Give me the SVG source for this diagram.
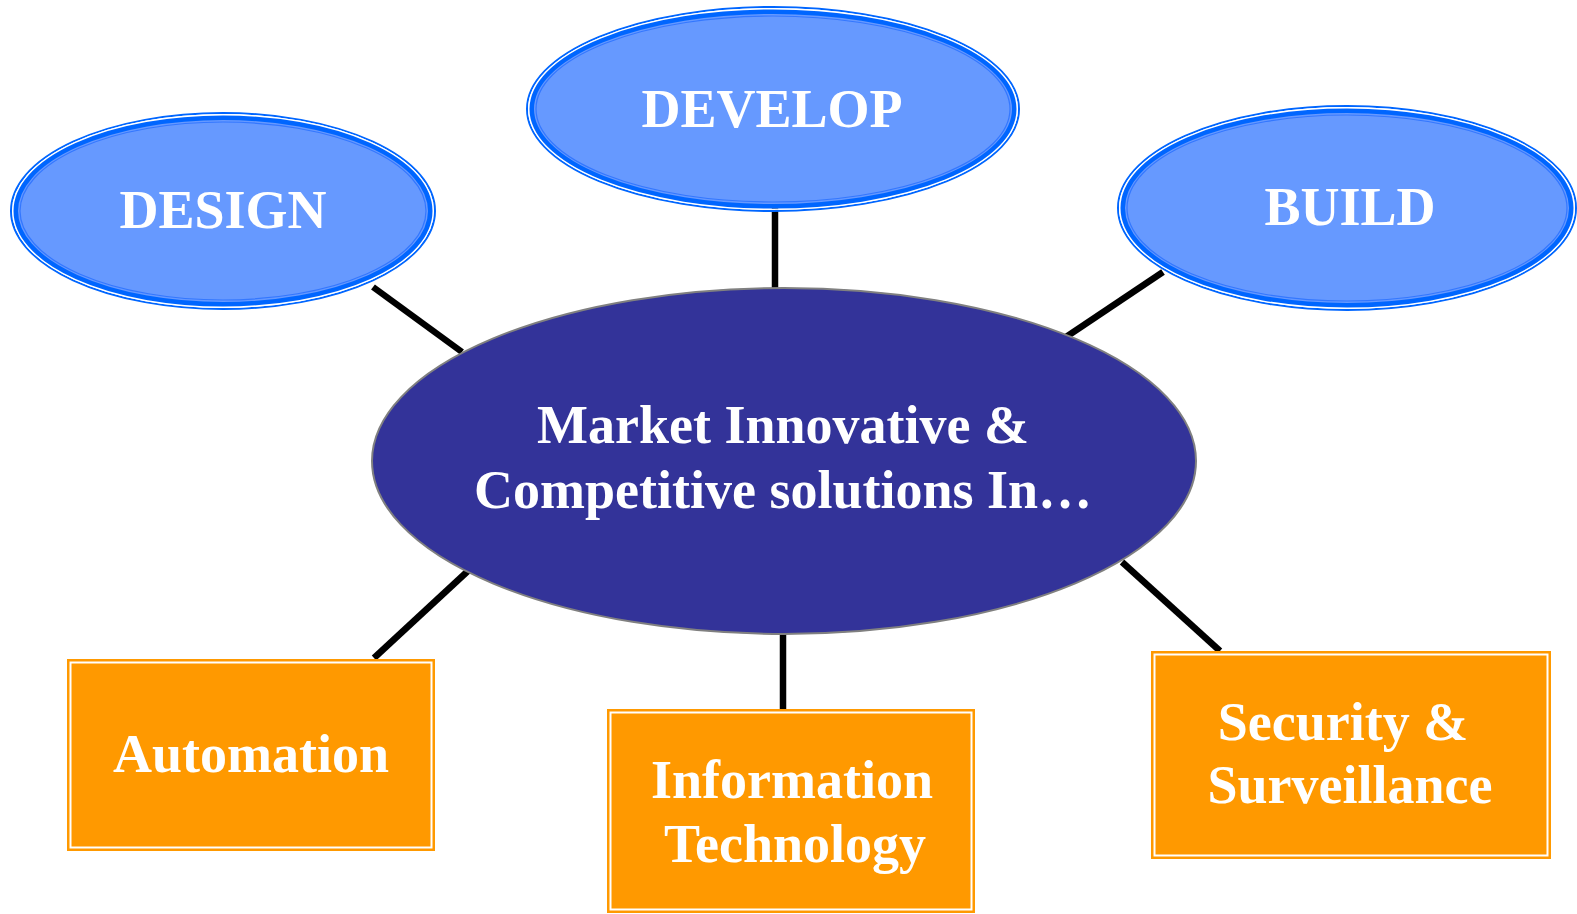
<svg xmlns="http://www.w3.org/2000/svg" width="1577" height="914" viewBox="0 0 1577 914">
<style>
.t{font-family:"Liberation Serif","Times New Roman",serif;font-weight:bold;font-size:54px;fill:#ffffff;text-anchor:middle}
.ring1{fill:none;stroke:#0066ff;stroke-width:2}
.ring2{fill:none;stroke:#ffffff;stroke-width:1.5}
.ring3{fill:#6699ff;stroke:#0066ff;stroke-width:4.5}
.ring4{fill:none;stroke:#3377ff;stroke-width:1.2}
.box{fill:#ff9900}
.boxin{fill:none;stroke:#ffffff;stroke-width:2}
.conn line{stroke:#000000;stroke-width:6.5}
</style>
<rect width="1577" height="914" fill="#ffffff"/>
<g id="connectors" class="conn">
<line x1="373" y1="287" x2="462" y2="352"/>
<line x1="775" y1="207" x2="775" y2="290"/>
<line x1="1163" y1="272" x2="1066" y2="337"/>
<line x1="469" y1="570" x2="374" y2="658"/>
<line x1="783" y1="632" x2="783" y2="712"/>
<line x1="1122" y1="562" x2="1220" y2="651"/>
</g>
<g id="center">
<ellipse cx="784" cy="461" rx="412" ry="173" fill="#333399" stroke="#808080" stroke-width="2"/>
<text class="t" x="783" y="443">Market Innovative &amp;</text>
<text class="t" x="783" y="508">Competitive solutions In…</text>
</g>
<g id="design">
<ellipse class="ring1" cx="223" cy="211" rx="212" ry="98"/>
<ellipse class="ring2" cx="223" cy="211" rx="210.25" ry="96.25"/>
<ellipse class="ring3" cx="223" cy="211" rx="207.25" ry="93.25"/>
<ellipse class="ring4" cx="223" cy="211" rx="203" ry="89"/>
<text class="t" x="223" y="228">DESIGN</text>
</g>
<g id="develop">
<ellipse class="ring1" cx="773" cy="109" rx="246" ry="102"/>
<ellipse class="ring2" cx="773" cy="109" rx="244.25" ry="100.25"/>
<ellipse class="ring3" cx="773" cy="109" rx="241.25" ry="97.25"/>
<ellipse class="ring4" cx="773" cy="109" rx="237" ry="93"/>
<text class="t" x="772" y="127">DEVELOP</text>
</g>
<g id="build">
<ellipse class="ring1" cx="1347" cy="208" rx="229" ry="102"/>
<ellipse class="ring2" cx="1347" cy="208" rx="227.25" ry="100.25"/>
<ellipse class="ring3" cx="1347" cy="208" rx="224.25" ry="97.25"/>
<ellipse class="ring4" cx="1347" cy="208" rx="220" ry="93"/>
<text class="t" x="1350" y="225">BUILD</text>
</g>
<g id="automation">
<rect class="box" x="67" y="659" width="368" height="192"/>
<rect class="boxin" x="70.5" y="662.5" width="361" height="185"/>
<text class="t" x="251" y="772">Automation</text>
</g>
<g id="information-technology">
<rect class="box" x="607" y="709" width="368" height="204"/>
<rect class="boxin" x="610.5" y="712.5" width="361" height="197"/>
<text class="t" x="792" y="798">Information</text>
<text class="t" x="795" y="862">Technology</text>
</g>
<g id="security">
<rect class="box" x="1151" y="651" width="400" height="208"/>
<rect class="boxin" x="1154.5" y="654.5" width="393" height="201"/>
<text class="t" x="1343" y="740">Security &amp;</text>
<text class="t" x="1350" y="803">Surveillance</text>
</g>
</svg>
